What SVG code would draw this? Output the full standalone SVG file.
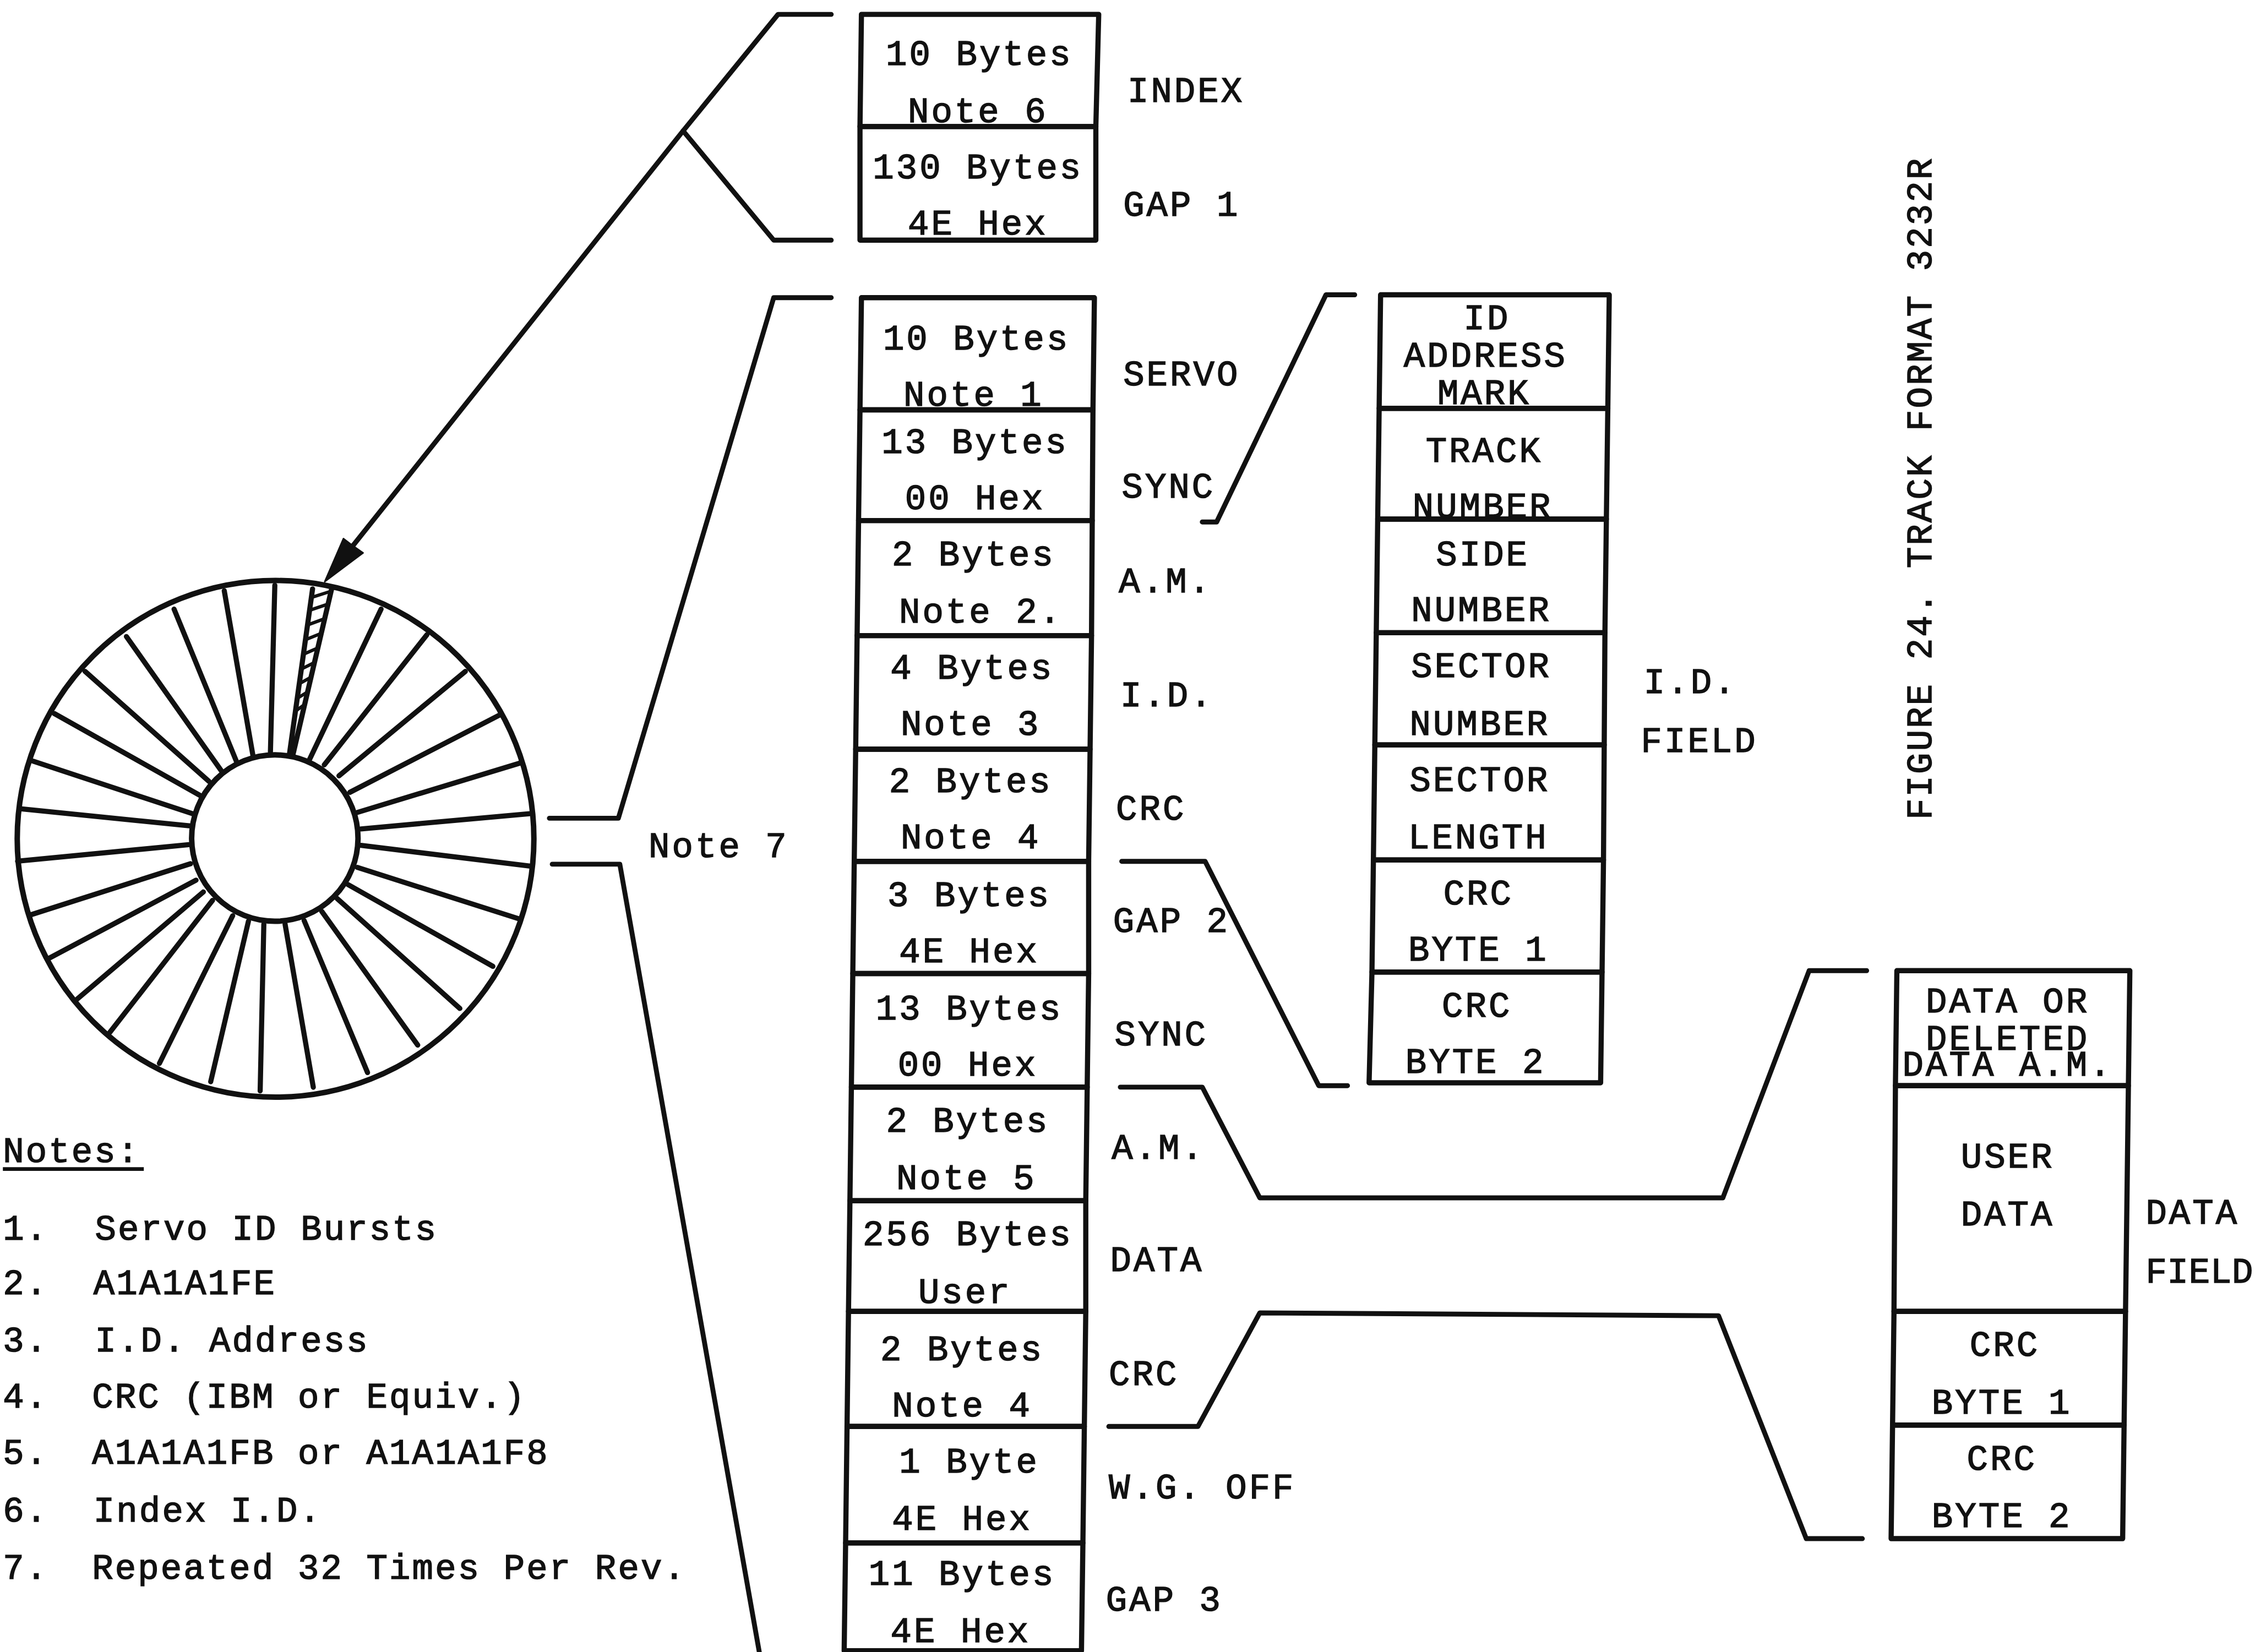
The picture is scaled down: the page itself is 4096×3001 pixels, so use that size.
<svg xmlns="http://www.w3.org/2000/svg" width="4096" height="3001" viewBox="0 0 4096 3001">
<style>
.t{font-family:"Liberation Mono","DejaVu Sans Mono",monospace;font-size:24.5px;letter-spacing:1.55px;fill:#111;stroke:#111;stroke-width:.6px}
.n{letter-spacing:1.2px}
.m{text-anchor:middle}
.b{fill:none;stroke:#111;stroke-width:3.6;stroke-linejoin:round}
.c{fill:none;stroke:#111;stroke-width:3.4;stroke-linejoin:round;stroke-linecap:round}
.s{fill:none;stroke:#111;stroke-width:14;stroke-linecap:round}
.h{fill:none;stroke:#111;stroke-width:9}
</style>
<rect width="4096" height="3001" fill="#fff"/>
<g transform="scale(2.6122)">
<g id="connectors">
<path class="c" d="M578 10H541L475 91L245 380"/>
<path class="c" d="M475 91L538 167H578"/>
<polygon points="225.800,404.500 238.800,374.500 244.700,379 252.500,384.500" fill="#111" stroke="#111" stroke-width="1" stroke-linejoin="round"/>
<path class="c" d="M382 569H430L538 207H578"/>
<path class="c" d="M384 601H431L528 1149"/>
<path class="c" d="M836 363H846L922 205H942"/>
<path class="c" d="M780 599H838L917 755H937"/>
<path class="c" d="M779 756H836L876 833H1198L1258 675H1298"/>
<path class="c" d="M771 992H833L876 913L1195 915L1256 1070H1295"/>
</g>
<g id="disk" transform="translate(0,382.8) scale(.2548)">
<circle cx="752" cy="787" r="705" fill="#fff" stroke="#111" stroke-width="15"/>
<path class="s" d="M750 95L738 550M853 105L790 555M905 105L800 555M1040 160L845 570M1165 230L885 585M1270 330L925 615M1362 450L955 660M1420 580L975 715M1450 718L985 760M1450 862L985 805M1415 1005L975 865M1345 1135L950 912M1255 1250L920 950M1140 1350L878 985M1003 1425L830 1010M855 1465L778 1020M710 1475L720 1020M575 1450L678 1012M435 1400L635 997M300 1315L580 955M210 1225L555 932M130 1115L535 900M82 995L520 855M48 848L515 803M55 705L520 752M90 575L530 720M148 445L545 668M232 330L570 630M345 235L603 600M475 160L645 575M612 110L690 558"/>
<path class="h" d="M851 128L901 112M846 163L893 147M840 203L884 187M835 243L875 227M829 283L865 267M824 323L856 307M818 363L847 347M812 403L838 387M807 438L829 422"/>
<circle cx="750" cy="785" r="227" fill="#fff" stroke="#111" stroke-width="15"/>
</g>
<g id="index"><path class="b" d="M599 10H764L762 88H598Z"/><text class="t m" x="681" y="45">10 Bytes</text><text class="t m" x="680" y="85">Note 6</text><text class="t" x="784" y="71">INDEX</text></g>
<g id="gap1"><path class="b" d="M598 88H762V167H598Z"/><text class="t m" x="680" y="124">130 Bytes</text><text class="t m" x="680" y="163">4E Hex</text><text class="t" x="781" y="150">GAP 1</text></g>
<g id="servo"><path class="b" d="M599 207H761L760 285H598Z"/><text class="t m" x="679" y="243">10 Bytes</text><text class="t m" x="677" y="282">Note 1</text><text class="t" x="781" y="268">SERVO</text></g>
<g id="sync1"><path class="b" d="M598 285H760L759.500 362H597Z"/><text class="t m" x="678" y="315">13 Bytes</text><text class="t m" x="678" y="354">00 Hex</text><text class="t" x="780" y="346">SYNC</text></g>
<g id="am1"><path class="b" d="M597 362H759.500L759 442H596Z"/><text class="t m" x="677" y="393">2 Bytes</text><text class="t m" x="682" y="433">Note 2.</text><text class="t" x="778" y="412">A.M.</text></g>
<g id="id"><path class="b" d="M596 442H759L758 521H595Z"/><text class="t m" x="676" y="472">4 Bytes</text><text class="t m" x="675" y="511">Note 3</text><text class="t" x="779" y="491">I.D.</text></g>
<g id="crc1"><path class="b" d="M595 521H758L757 599H594Z"/><text class="t m" x="675" y="551">2 Bytes</text><text class="t m" x="675" y="590">Note 4</text><text class="t" x="776" y="570">CRC</text></g>
<g id="gap2"><path class="b" d="M594 599H757V677H593Z"/><text class="t m" x="674" y="630">3 Bytes</text><text class="t m" x="674" y="669">4E Hex</text><text class="t" x="774" y="648">GAP 2</text></g>
<g id="sync2"><path class="b" d="M593 677H757L756 756H592Z"/><text class="t m" x="674" y="709">13 Bytes</text><text class="t m" x="673" y="748">00 Hex</text><text class="t" x="775" y="727">SYNC</text></g>
<g id="am2"><path class="b" d="M592 756H756L755 835H591Z"/><text class="t m" x="673" y="787">2 Bytes</text><text class="t m" x="672" y="827">Note 5</text><text class="t" x="773" y="806">A.M.</text></g>
<g id="data"><path class="b" d="M591 835H755V912H590Z"/><text class="t m" x="673" y="866">256 Bytes</text><text class="t m" x="671" y="906">User</text><text class="t" x="772" y="884">DATA</text></g>
<g id="crc2"><path class="b" d="M590 912H755L754 992H589Z"/><text class="t m" x="669" y="946">2 Bytes</text><text class="t m" x="669" y="985">Note 4</text><text class="t" x="771" y="963">CRC</text></g>
<g id="wgoff"><path class="b" d="M589 992H754L753 1073H588Z"/><text class="t m" x="674" y="1024">1 Byte</text><text class="t m" x="669" y="1064">4E Hex</text><text class="t" x="771" y="1042">W.G. OFF</text></g>
<g id="gap3"><path class="b" d="M588 1073H753L752 1148H587Z"/><text class="t m" x="669" y="1102">11 Bytes</text><text class="t m" x="668" y="1142">4E Hex</text><text class="t" x="769" y="1120">GAP 3</text></g>
<g id="idmark"><path class="b" d="M960 205H1119L1118 284H959Z"/><text class="t m" x="1034" y="229">ID</text><text class="t m" x="1033" y="255">ADDRESS</text><text class="t m" x="1032" y="281">MARK</text></g>
<g id="track"><path class="b" d="M959 284H1118L1117 361H958Z"/><text class="t m" x="1032" y="321">TRACK</text><text class="t m" x="1031" y="360">NUMBER</text></g>
<g id="side"><path class="b" d="M958 361H1117L1116 440H957Z"/><text class="t m" x="1031" y="393">SIDE</text><text class="t m" x="1030" y="432">NUMBER</text></g>
<g id="sector"><path class="b" d="M957 440H1116L1115.500 518H956Z"/><text class="t m" x="1030" y="471">SECTOR</text><text class="t m" x="1029" y="511">NUMBER</text></g>
<g id="length"><path class="b" d="M956 518H1115.500L1115 598H955Z"/><text class="t m" x="1029" y="550">SECTOR</text><text class="t m" x="1028" y="590">LENGTH</text></g>
<g id="idcrc1"><path class="b" d="M955 598H1115L1114 676H954Z"/><text class="t m" x="1028" y="629">CRC</text><text class="t m" x="1028" y="668">BYTE 1</text></g>
<g id="idcrc2"><path class="b" d="M954 676H1114L1113 753H952Z"/><text class="t m" x="1027" y="707">CRC</text><text class="t m" x="1026" y="746">BYTE 2</text></g>
<g id="idlabel"><text class="t" x="1143" y="482">I.D.</text><text class="t" x="1141" y="523">FIELD</text></g>
<g id="dam"><path class="b" d="M1319 675H1481L1480 755H1318Z"/><text class="t m" x="1396" y="704">DATA OR</text><text class="t m" x="1396" y="730">DELETED</text><text class="t m" x="1396" y="748">DATA A.M.</text></g>
<g id="userdata"><path class="b" d="M1318 755H1480L1478 912H1317Z"/><text class="t m" x="1396" y="812">USER</text><text class="t m" x="1396" y="852">DATA</text></g>
<g id="dcrc1"><path class="b" d="M1317 912H1478L1477 991H1316Z"/><text class="t m" x="1394" y="943">CRC</text><text class="t m" x="1392" y="983">BYTE 1</text></g>
<g id="dcrc2"><path class="b" d="M1316 991H1477L1476 1070H1315Z"/><text class="t m" x="1392" y="1022">CRC</text><text class="t m" x="1392" y="1062">BYTE 2</text></g>
<g id="datalabel"><text class="t" x="1492" y="851">DATA</text><text class="t" x="1492" y="892" style="letter-spacing:.3px">FIELD</text></g>
<text class="t" x="451" y="596">Note 7</text>
<g id="notes">
<text class="t n" x="2" y="808">Notes:</text>
<path d="M2 813H100" stroke="#111" stroke-width="2.6" fill="none"/>
<text class="t n" x="2" y="862">1.</text><text class="t n" x="66" y="862">Servo ID Bursts</text>
<text class="t n" x="2" y="900">2.</text><text class="t n" x="65" y="900">A1A1A1FE</text>
<text class="t n" x="2" y="940">3.</text><text class="t n" x="66" y="940">I.D. Address</text>
<text class="t n" x="2" y="979">4.</text><text class="t n" x="64" y="979">CRC (IBM or Equiv.)</text>
<text class="t n" x="2" y="1018">5.</text><text class="t n" x="64" y="1018">A1A1A1FB or A1A1A1F8</text>
<text class="t n" x="2" y="1058">6.</text><text class="t n" x="65" y="1058">Index I.D.</text>
<text class="t n" x="2" y="1098">7.</text><text class="t n" x="64" y="1098">Repeated 32 Times Per Rev.</text>
</g>
<text class="t n" transform="translate(1343,570) rotate(-90)">FIGURE 24. TRACK FORMAT 3232R</text>
</g>
</svg>
